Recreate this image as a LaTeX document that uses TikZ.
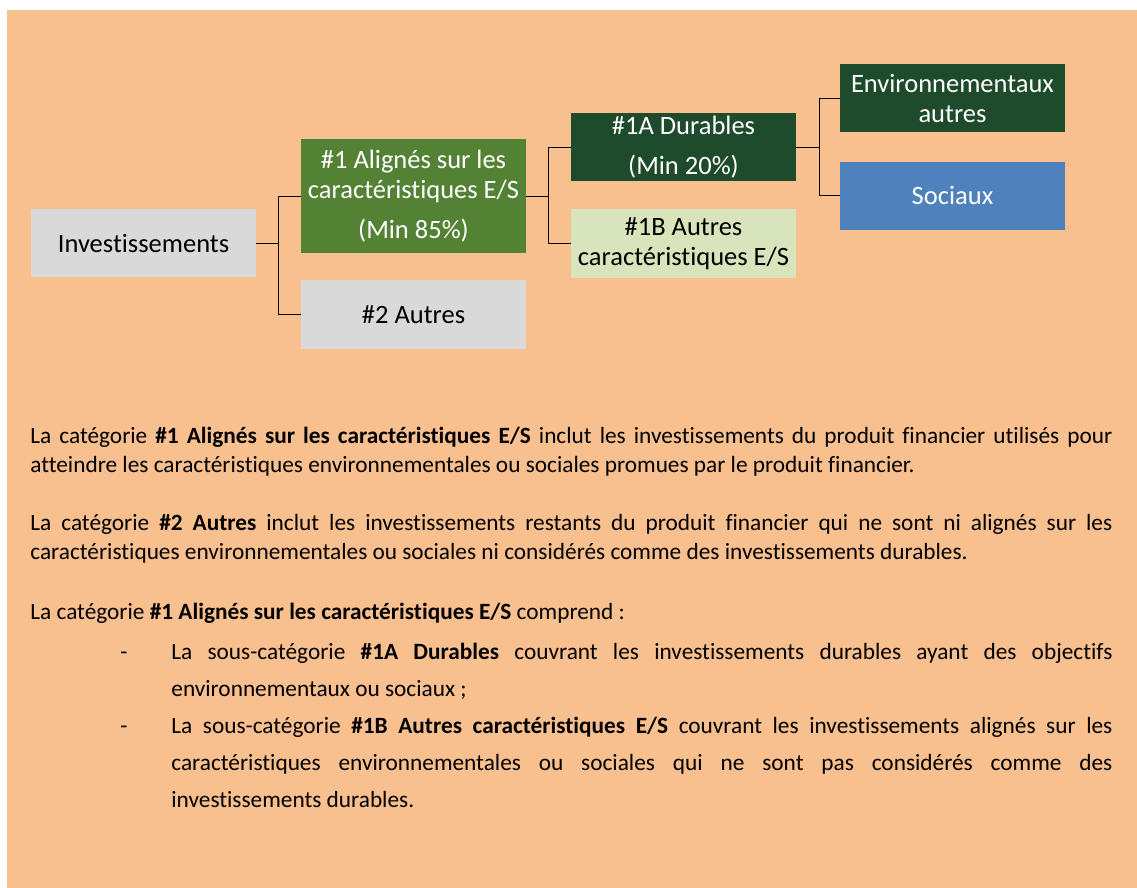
\documentclass[tikz,border=0pt]{standalone}
\usepackage{fontspec}
\setmainfont{Carlito}[Ligatures=NoCommon]
\hyphenpenalty=10000
\tolerance=9999

\definecolor{peach}{RGB}{249,192,143}
\definecolor{lightgrey}{RGB}{217,217,217}
\definecolor{midgreen}{RGB}{84,130,53}
\definecolor{darkgreen}{RGB}{30,75,44}
\definecolor{paleblue}{RGB}{79,129,189}
\definecolor{palegreen}{RGB}{216,228,188}

\begin{document}
\begin{tikzpicture}[x=1pt, y=-1pt,
                    line width=0.8pt]
    \tikzstyle{box}=[rectangle, minimum width=225pt, minimum height=68pt, inner sep=2pt,
                     align=center, font=\fontsize{26.5}{30}\selectfont]
    \tikzstyle{greybox}=[box, fill=lightgrey, text=black]
    \tikzstyle{lightbox}=[box, fill=palegreen, text=black]
    \tikzstyle{greenbox}=[box, fill=midgreen, text=white]
    \tikzstyle{darkbox}=[box, fill=darkgreen, text=white]
    \tikzstyle{bluebox}=[box, fill=paleblue, text=white]
    \tikzstyle{para}=[anchor=base west, inner sep=0pt, align=justify,
                      font=\fontsize{23.3}{29}\selectfont]
    \tikzstyle{listtext}=[para, font=\fontsize{23.3}{37}\selectfont]
    \tikzstyle{bulletmark}=[anchor=base west, inner sep=0pt, font=\fontsize{23.3}{37}\selectfont]

    \useasboundingbox (0,0) rectangle (1137,888);
    \fill[peach] (7,10) rectangle (1137,888);

    % the tree
    \node[greybox] (inv) at (143.5,243) {Investissements};
    \node[greenbox, minimum height=114pt] (al) at (413.5,196)
        {\#1 Alignés sur les\\caractéristiques E/S\\[10pt](Min 85\%)};
    \node[greybox, minimum height=69pt] (oth) at (413.5,314.5) {\#2 Autres};
    \node[darkbox] (dur) at (683.5,147) {\#1A Durables\\[10pt](Min 20\%)};
    \node[lightbox, minimum height=69pt] (aut) at (683.5,243.5)
        {\#1B Autres\\caractéristiques E/S};
    \node[darkbox] (env) at (952.5,98.5) {Environnementaux\\autres};
    \node[bluebox] (soc) at (952.5,195.5) {Sociaux};

    \draw (inv.east) -- ++(22,0) coordinate (j1);
    \draw (j1) |- (al.west);
    \draw (j1) |- (oth.west);
    \draw (al.east) -- ++(22,0) coordinate (j2);
    \draw (j2) |- (dur.west);
    \draw (j2) |- (aut.west);
    \draw (dur.east) -- ++(23,0) coordinate (j3);
    \draw (j3) |- (env.west);
    \draw (j3) |- (soc.west);

    % the text below
    \node[para, text width=1082pt] (p1) at (30,443)
        {La catégorie \textbf{\#1 Alignés sur les caractéristiques E/S} inclut les investissements du produit financier utilisés pour\linebreak
         atteindre les caractéristiques environnementales ou sociales promues par le produit financier.};
    \node[para, text width=1082pt] (p2) at (30,530)
        {La catégorie \textbf{\#2 Autres} inclut les investissements restants du produit financier qui ne sont ni alignés sur les\linebreak
         caractéristiques environnementales ou sociales ni considérés comme des investissements durables.};
    \node[para, text width=1082pt] (p3) at (30,619)
        {La catégorie \textbf{\#1 Alignés sur les caractéristiques E/S} comprend~:};
    \node[bulletmark] (d1) at (120,659) {-};
    \node[listtext, text width=941pt] (b1) at (171,659)
        {La sous-catégorie \textbf{\#1A Durables} couvrant les investissements durables ayant des objectifs\linebreak
         environnementaux ou sociaux ;};
    \node[bulletmark] (d2) at (120,733) {-};
    \node[listtext, text width=941pt] (b2) at (171,733)
        {La sous-catégorie \textbf{\#1B Autres caractéristiques E/S} couvrant les investissements alignés sur les\linebreak
         caractéristiques environnementales ou sociales qui ne sont pas considérés comme des\linebreak
         investissements durables.};
\end{tikzpicture}
\end{document}
